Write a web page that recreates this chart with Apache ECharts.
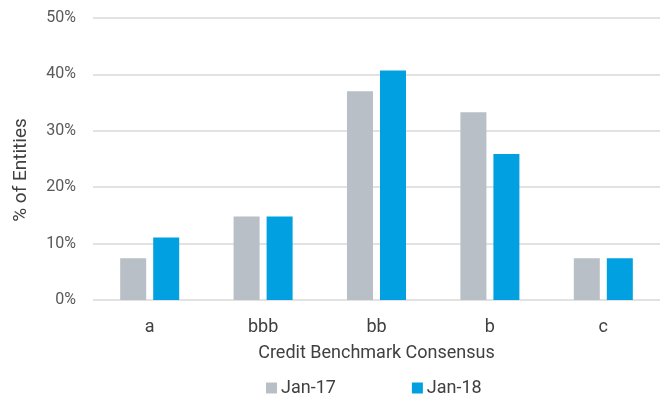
<!DOCTYPE html>
<html>
<head>
<meta charset="utf-8">
<script src="https://cdn.jsdelivr.net/npm/echarts@6/dist/echarts.min.js"></script>
<style>
html,body{margin:0;padding:0;background:#fff;}
#chart{width:671px;height:396px;}
</style>
</head>
<body>
<div id="chart"></div>
<script>
const categories = ['a', 'bbb', 'bb', 'b', 'c'];
const jan17 = [7.4, 14.8, 37.0, 33.3, 7.4];
const jan18 = [11.1, 14.8, 40.7, 25.9, 7.4];
const yTicks = [0, 10, 20, 30, 40, 50];

const tickColor = '#595959';
const titleColor = '#404040';
const fontFamily = 'Roboto, "Noto Sans", sans-serif';

const chart = echarts.init(document.getElementById('chart'));
chart.setOption({
  animation: false,
  textStyle: { fontFamily: fontFamily },
  grid: { left: 93, right: 11, top: 18, bottom: 96 },
  legend: {
    top: 374,
    left: 261,
    itemGap: 76,
    itemWidth: 11,
    itemHeight: 11,
    icon: 'rect',
    textStyle: { color: titleColor, fontSize: 18, fontFamily: fontFamily, padding: [0, 0, 0, -1] },
    data: ['Jan-17', 'Jan-18']
  },
  xAxis: {
    type: 'category',
    data: categories,
    name: 'Credit Benchmark Consensus',
    nameLocation: 'middle',
    nameGap: 44,
    nameTextStyle: { color: titleColor, fontSize: 18, fontFamily: fontFamily },
    axisLine: { show: false },
    axisTick: { show: false },
    axisLabel: { color: titleColor, fontSize: 18, margin: 18, fontFamily: fontFamily }
  },
  yAxis: {
    type: 'value',
    min: yTicks[0],
    max: yTicks[yTicks.length - 1],
    interval: 10,
    name: '% of Entities',
    nameLocation: 'middle',
    nameGap: 62,
    nameTextStyle: { color: titleColor, fontSize: 19, fontFamily: fontFamily, padding: [0, 22, 0, 0] },
    axisLine: { show: false },
    axisTick: { show: false },
    axisLabel: { color: tickColor, fontSize: 16, margin: 17, formatter: v => v + '%', fontFamily: fontFamily },
    splitLine: { lineStyle: { color: '#D9D9D9', width: 1.5 } }
  },
  series: [
    {
      name: 'Jan-17',
      type: 'bar',
      data: jan17,
      barWidth: 26,
      barGap: '27%',
      itemStyle: { color: '#B8BFC6' }
    },
    {
      name: 'Jan-18',
      type: 'bar',
      data: jan18,
      barWidth: 26,
      itemStyle: { color: '#00A0E1' }
    }
  ]
});
</script>
</body>
</html>
